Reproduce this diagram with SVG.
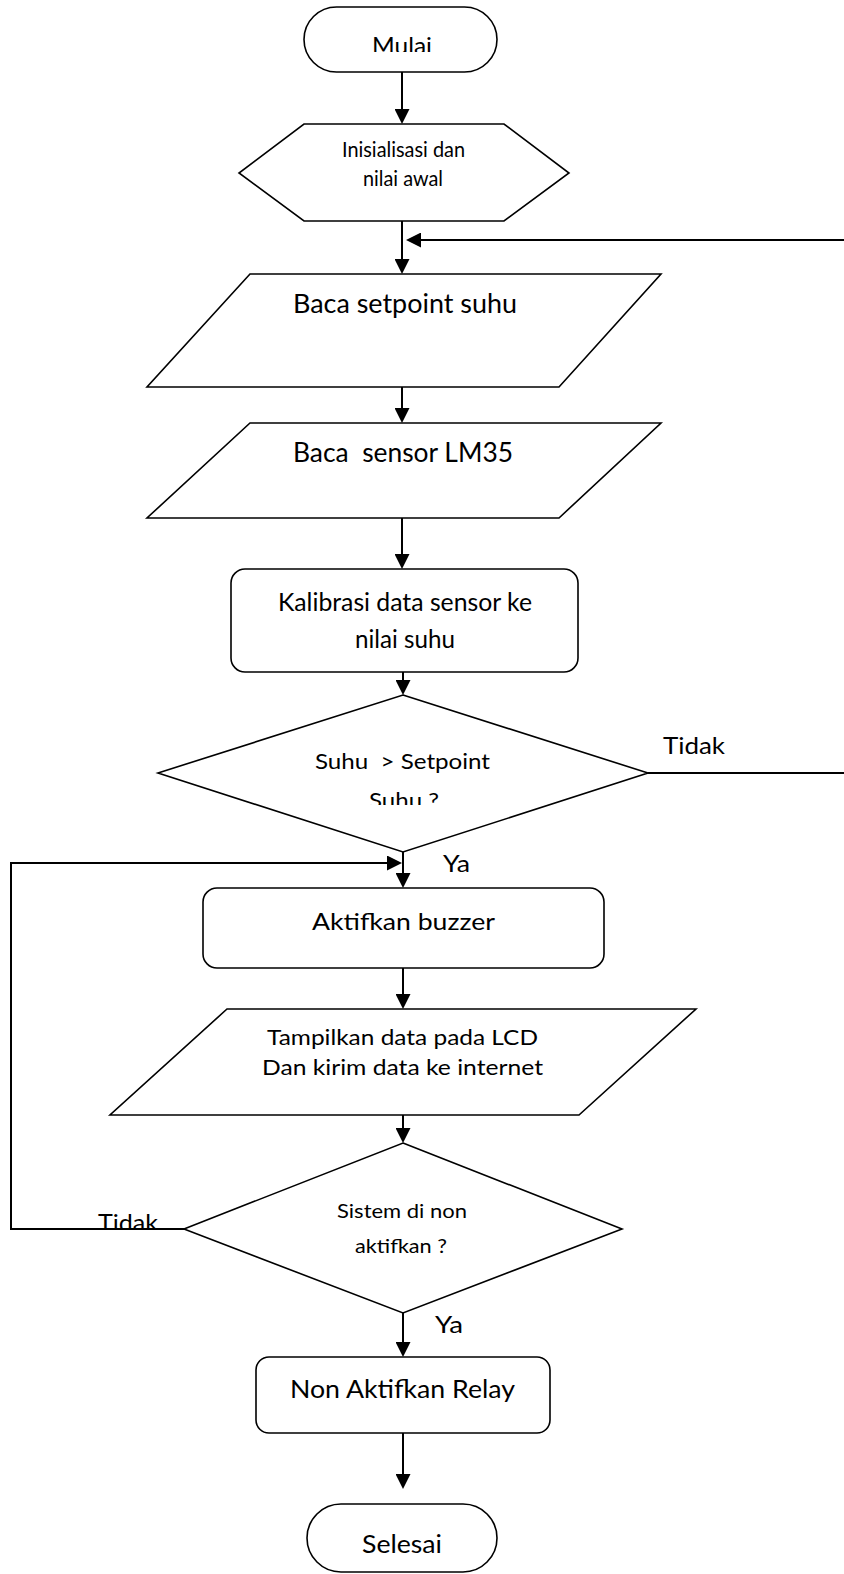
<svg xmlns="http://www.w3.org/2000/svg" width="844" height="1574" viewBox="0 0 844 1574">
<style>
.shape{fill:#fff;stroke:#000;stroke-width:1.6}
.conn{fill:none;stroke:#000;stroke-width:2}
.t{font-family:Lato,"Open Sans","Liberation Sans",sans-serif;fill:#000}
</style>
<defs>
<marker id="ah" viewBox="0 0 15 15" refX="5" refY="7.5" markerWidth="15" markerHeight="15" markerUnits="userSpaceOnUse" orient="auto">
<path d="M0,0 L15,7.5 L0,15 z" fill="#000"/>
</marker>
<clipPath id="clipMulai"><rect x="300" y="0" width="200" height="52"/></clipPath>
<clipPath id="clipSuhu"><rect x="300" y="780" width="200" height="25"/></clipPath>
<clipPath id="clipTidak"><rect x="90" y="1200" width="80" height="28"/></clipPath>
</defs>
<rect width="844" height="1574" fill="#fff"/>

<g id="connectors">
<line class="conn" x1="402" y1="72" x2="402" y2="114" marker-end="url(#ah)"/>
<line class="conn" x1="402" y1="221" x2="402" y2="264" marker-end="url(#ah)"/>
<line class="conn" x1="844" y1="240" x2="416" y2="240" marker-end="url(#ah)"/>
<line class="conn" x1="402" y1="387" x2="402" y2="413" marker-end="url(#ah)"/>
<line class="conn" x1="402" y1="518" x2="402" y2="559" marker-end="url(#ah)"/>
<line class="conn" x1="403" y1="672" x2="403" y2="685" marker-end="url(#ah)"/>
<line class="conn" x1="648" y1="773" x2="844" y2="773"/>
<line class="conn" x1="403" y1="852" x2="403" y2="878" marker-end="url(#ah)"/>
<polyline class="conn" points="184,1229 11,1229 11,863 392,863" marker-end="url(#ah)"/>
<line class="conn" x1="403" y1="968" x2="403" y2="999" marker-end="url(#ah)"/>
<line class="conn" x1="403" y1="1115" x2="403" y2="1133" marker-end="url(#ah)"/>
<line class="conn" x1="403" y1="1313" x2="403" y2="1347" marker-end="url(#ah)"/>
<line class="conn" x1="403" y1="1433" x2="403" y2="1479" marker-end="url(#ah)"/>
</g>

<g id="mulai">
<rect class="shape" x="304" y="7" width="193" height="65" rx="32.5"/>
<text class="t" x="372" y="54" font-size="23" textLength="60" lengthAdjust="spacingAndGlyphs" clip-path="url(#clipMulai)">Mulai</text>
</g>

<g id="inisialisasi">
<polygon class="shape" points="304,124 504,124 569,173 504,221 304,221 239,173"/>
<text class="t" x="342" y="157" font-size="21" textLength="123" lengthAdjust="spacingAndGlyphs">Inisialisasi dan</text>
<text class="t" x="363" y="186" font-size="21" textLength="80" lengthAdjust="spacingAndGlyphs">nilai awal</text>
</g>

<g id="baca-setpoint">
<polygon class="shape" points="250,274 661,274 559,387 147,387"/>
<text class="t" x="293" y="313" font-size="26.5" textLength="224" lengthAdjust="spacingAndGlyphs">Baca setpoint suhu</text>
</g>

<g id="baca-sensor">
<polygon class="shape" points="250,423 661,423 559,518 147,518"/>
<text class="t" x="293" y="462" font-size="26" textLength="220" lengthAdjust="spacingAndGlyphs" xml:space="preserve">Baca  sensor LM35</text>
</g>

<g id="kalibrasi">
<rect class="shape" x="231" y="569" width="347" height="103" rx="14"/>
<text class="t" x="278" y="611" font-size="25" textLength="254" lengthAdjust="spacingAndGlyphs">Kalibrasi data sensor ke</text>
<text class="t" x="355" y="648" font-size="25" textLength="100" lengthAdjust="spacingAndGlyphs">nilai suhu</text>
</g>

<g id="cek-suhu">
<polygon class="shape" points="403,695 648,773 403,852 158,773"/>
<text class="t" x="315" y="769" font-size="21" textLength="175" lengthAdjust="spacingAndGlyphs" xml:space="preserve">Suhu  &gt; Setpoint</text>
<text class="t" x="369" y="808" font-size="21" textLength="70" lengthAdjust="spacingAndGlyphs" clip-path="url(#clipSuhu)">Suhu ?</text>
</g>

<g id="aktifkan-buzzer">
<rect class="shape" x="203" y="888" width="401" height="80" rx="14"/>
<text class="t" x="312" y="930" font-size="24" textLength="183" lengthAdjust="spacingAndGlyphs">Aktifkan buzzer</text>
</g>

<g id="tampilkan">
<polygon class="shape" points="227,1009 696,1009 579,1115 110,1115"/>
<text class="t" x="267" y="1045" font-size="22" textLength="271" lengthAdjust="spacingAndGlyphs">Tampilkan data pada LCD</text>
<text class="t" x="262" y="1075" font-size="22" textLength="281" lengthAdjust="spacingAndGlyphs">Dan kirim data ke internet</text>
</g>

<g id="cek-sistem">
<polygon class="shape" points="403,1143 622,1229 403,1313 184,1229"/>
<text class="t" x="337" y="1218" font-size="19" textLength="130" lengthAdjust="spacingAndGlyphs">Sistem di non</text>
<text class="t" x="355" y="1253" font-size="19" textLength="92" lengthAdjust="spacingAndGlyphs">aktifkan ?</text>
</g>

<g id="non-aktifkan-relay">
<rect class="shape" x="256" y="1357" width="294" height="76" rx="13"/>
<text class="t" x="290" y="1398" font-size="25" textLength="225" lengthAdjust="spacingAndGlyphs">Non Aktifkan Relay</text>
</g>

<g id="selesai">
<rect class="shape" x="307" y="1504" width="190" height="68" rx="34"/>
<text class="t" x="362" y="1553" font-size="25" textLength="80" lengthAdjust="spacingAndGlyphs">Selesai</text>
</g>

<g id="labels">
<text class="t" x="663" y="754" font-size="24" textLength="62" lengthAdjust="spacingAndGlyphs">Tidak</text>
<text class="t" x="443" y="872" font-size="24" textLength="27" lengthAdjust="spacingAndGlyphs">Ya</text>
<text class="t" x="98" y="1231" font-size="24" textLength="60" lengthAdjust="spacingAndGlyphs" clip-path="url(#clipTidak)">Tidak</text>
<text class="t" x="435" y="1333" font-size="24" textLength="28" lengthAdjust="spacingAndGlyphs">Ya</text>
</g>
</svg>
